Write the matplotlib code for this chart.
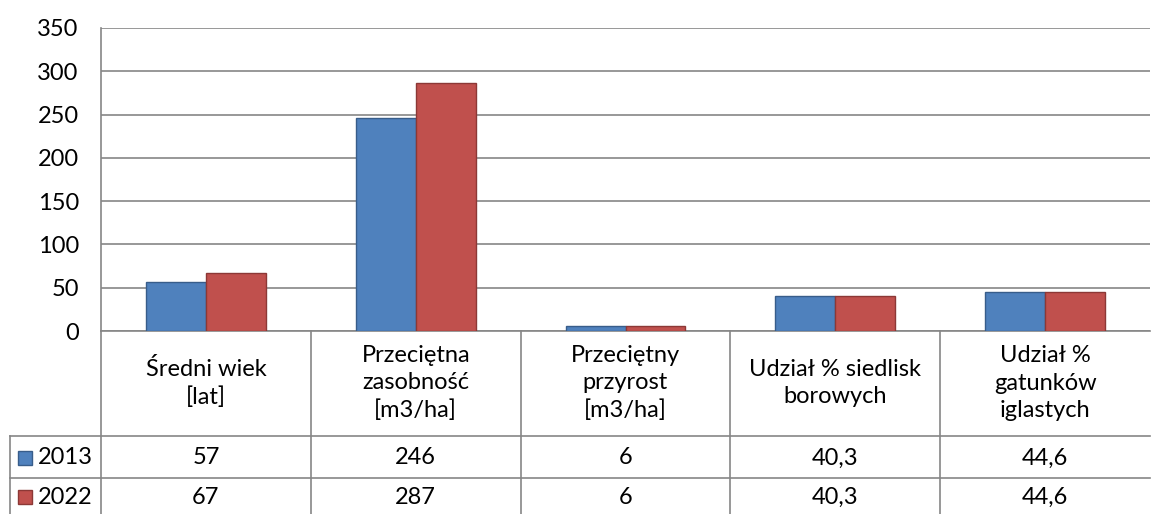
import matplotlib.pyplot as plt
from matplotlib.patches import Rectangle
from matplotlib.transforms import blended_transform_factory
import numpy as np

plt.rcParams['font.family'] = ['Lato', 'DejaVu Sans']

categories = ["Średni wiek\n[lat]", "Przeciętna\nzasobność\n[m3/ha]", "Przeciętny\nprzyrost\n[m3/ha]",
              "Udział % siedlisk\nborowych", "Udział %\ngatunków\niglastych"]
series_names = ["2013", "2022"]
values_2013 = [57, 246, 6, 40.3, 44.6]
values_2022 = [67, 287, 6, 40.3, 44.6]
labels_2013 = ["57", "246", "6", "40,3", "44,6"]
labels_2022 = ["67", "287", "6", "40,3", "44,6"]
y_ticks = [0, 50, 100, 150, 200, 250, 300, 350]

fills = ["#4f81bd", "#c0504d"]
edges = ["#385d8a", "#8c3836"]
grid_c = "#868686"
FS = 17

W, H = 1152, 514
fig = plt.figure(figsize=(W / 100, H / 100), dpi=100)

# plot area in pixels
x0, x1 = 101, 1150
y_top, y_bot = 28, 331
ax = fig.add_axes([x0 / W, 1 - y_bot / H, (x1 - x0) / W, (y_bot - y_top) / H])

n = len(categories)
x = np.arange(n)
bw = 1 / 3.5
ax.bar(x - bw / 2, values_2013, bw, color=fills[0], edgecolor=edges[0], linewidth=1, zorder=3)
ax.bar(x + bw / 2, values_2022, bw, color=fills[1], edgecolor=edges[1], linewidth=1, zorder=3)

ax.set_xlim(-0.5, n - 0.5)
ax.set_ylim(0, 350)
ax.set_yticks(y_ticks)
ax.set_yticklabels([str(t) for t in y_ticks], fontsize=FS)
ax.tick_params(axis='y', length=0, pad=16)
ax.set_xticks([])
ax.grid(axis='y', color=grid_c, linewidth=1.2, zorder=0)
for s in ['top', 'right', 'bottom']:
    ax.spines[s].set_visible(False)
ax.spines['left'].set_color(grid_c)
ax.spines['left'].set_linewidth(1.2)

# data table under the plot
def fy(py):
    return 1 - py / H

tr = blended_transform_factory(ax.transData, fig.transFigure)
tra = blended_transform_factory(ax.transAxes, fig.transFigure)
left_col = (10 - x0) / (x1 - x0)
lk = dict(color=grid_c, linewidth=1.2, clip_on=False)

ax.plot([0, 1], [fy(y_bot), fy(y_bot)], transform=tra, **lk)
for ry in [436, 478]:
    ax.plot([left_col, 1], [fy(ry), fy(ry)], transform=tra, **lk)
ax.plot([0, 0], [fy(y_bot), fy(H)], transform=tra, **lk)
ax.plot([left_col, left_col], [fy(436), fy(H)], transform=tra, **lk)
for k in range(1, n):
    ax.plot([k - 0.5, k - 0.5], [fy(y_bot), fy(H)], transform=tr, **lk)

for i, cat in enumerate(categories):
    ax.text(i, fy(383), cat, transform=tr, ha='center', va='center', fontsize=FS, linespacing=1.38)
    ax.text(i, fy(458), labels_2013[i], transform=tr, ha='center', va='center', fontsize=FS)
    ax.text(i, fy(497), labels_2022[i], transform=tr, ha='center', va='center', fontsize=FS)

for j, (name, ry) in enumerate(zip(series_names, [458, 497])):
    fig.patches.append(Rectangle((18 / W, fy(ry + 7)), 14 / W, 14 / H, transform=fig.transFigure,
                                 facecolor=fills[j], edgecolor=edges[j], linewidth=1))
    fig.text(38 / W, fy(ry), name, ha='left', va='center', fontsize=FS)

fig.savefig("out.png", dpi=100)
